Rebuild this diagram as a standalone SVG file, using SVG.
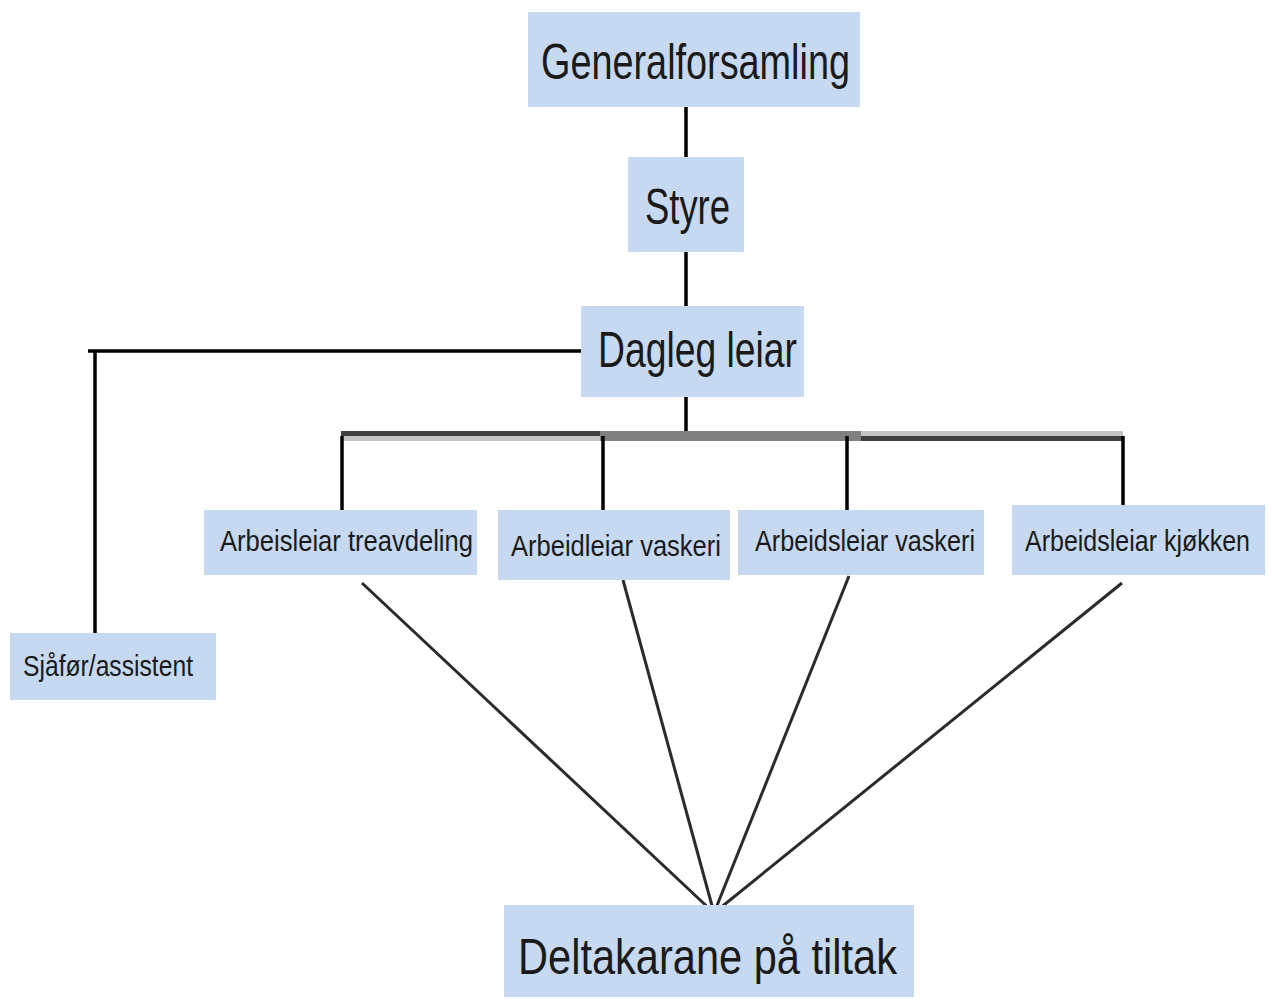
<svg xmlns="http://www.w3.org/2000/svg" width="1270" height="999" viewBox="0 0 1270 999">
<style>
.box{fill:#c6d9f1}
.big{font-family:"Liberation Sans",Arial,sans-serif;font-size:50px;fill:#1a1a1a;text-anchor:start}
.small{font-family:"Liberation Sans",Arial,sans-serif;font-size:30px;fill:#1a1a1a;text-anchor:start}
.ln{stroke:#000;stroke-width:3.5;fill:none}
.dg{stroke:#2b2b2b;stroke-width:3;fill:none}
</style>
<rect width="1270" height="999" fill="#fff"/>
<g id="connectors">
<line class="ln" x1="686" y1="107" x2="686" y2="157"/>
<line class="ln" x1="686" y1="252" x2="686" y2="306"/>
<line class="ln" x1="88" y1="351" x2="581" y2="351"/>
<line class="ln" x1="95" y1="351" x2="95" y2="633"/>
<line class="ln" x1="686" y1="397" x2="686" y2="436"/>
<rect x="341" y="431" width="259" height="5" fill="#404040"/>
<rect x="341" y="436" width="259" height="5" fill="#c3c3c3"/>
<rect x="600" y="431" width="261" height="10" fill="#808080"/>
<rect x="861" y="431" width="262" height="5" fill="#c3c3c3"/>
<rect x="861" y="436" width="262" height="5" fill="#404040"/>
<line class="ln" x1="342" y1="436" x2="342" y2="510"/>
<line class="ln" x1="603" y1="436" x2="603" y2="512"/>
<line class="ln" x1="847" y1="436" x2="847" y2="510"/>
<line class="ln" x1="1123" y1="436" x2="1123" y2="505"/>
<line class="dg" x1="362" y1="583" x2="714" y2="913"/>
<line class="dg" x1="623" y1="580" x2="714" y2="913"/>
<line class="dg" x1="849" y1="576" x2="714" y2="913"/>
<line class="dg" x1="1122" y1="583" x2="714" y2="913"/>
</g>
<g id="generalforsamling">
<rect class="box" x="528" y="12" width="332" height="95"/>
<text class="big" x="541" y="79" textLength="309" lengthAdjust="spacingAndGlyphs">Generalforsamling</text>
</g>
<g id="styre">
<rect class="box" x="628" y="157" width="116" height="95"/>
<text class="big" x="645" y="224" textLength="85" lengthAdjust="spacingAndGlyphs">Styre</text>
</g>
<g id="dagleg-leiar">
<rect class="box" x="581" y="306" width="223" height="91"/>
<text class="big" x="598" y="367" textLength="199" lengthAdjust="spacingAndGlyphs">Dagleg leiar</text>
</g>
<g id="sjafor">
<rect class="box" x="10" y="633" width="206" height="67"/>
<text class="small" x="23" y="676" textLength="170" lengthAdjust="spacingAndGlyphs">Sjåfør/assistent</text>
</g>
<g id="treavdeling">
<rect class="box" x="204" y="510" width="273" height="65"/>
<text class="small" x="220" y="551" textLength="253" lengthAdjust="spacingAndGlyphs">Arbeisleiar treavdeling</text>
</g>
<g id="vaskeri1">
<rect class="box" x="498" y="510" width="232" height="70"/>
<text class="small" x="511" y="556" textLength="210" lengthAdjust="spacingAndGlyphs">Arbeidleiar vaskeri</text>
</g>
<g id="vaskeri2">
<rect class="box" x="738" y="510" width="246" height="65"/>
<text class="small" x="755" y="551" textLength="220" lengthAdjust="spacingAndGlyphs">Arbeidsleiar vaskeri</text>
</g>
<g id="kjokken">
<rect class="box" x="1012" y="505" width="253" height="70"/>
<text class="small" x="1025" y="551" textLength="225" lengthAdjust="spacingAndGlyphs">Arbeidsleiar kjøkken</text>
</g>
<g id="deltakarane">
<rect class="box" x="504" y="905" width="410" height="92"/>
<text class="big" x="518" y="974" font-size="54" textLength="379" lengthAdjust="spacingAndGlyphs">Deltakarane på tiltak</text>
</g>
</svg>
